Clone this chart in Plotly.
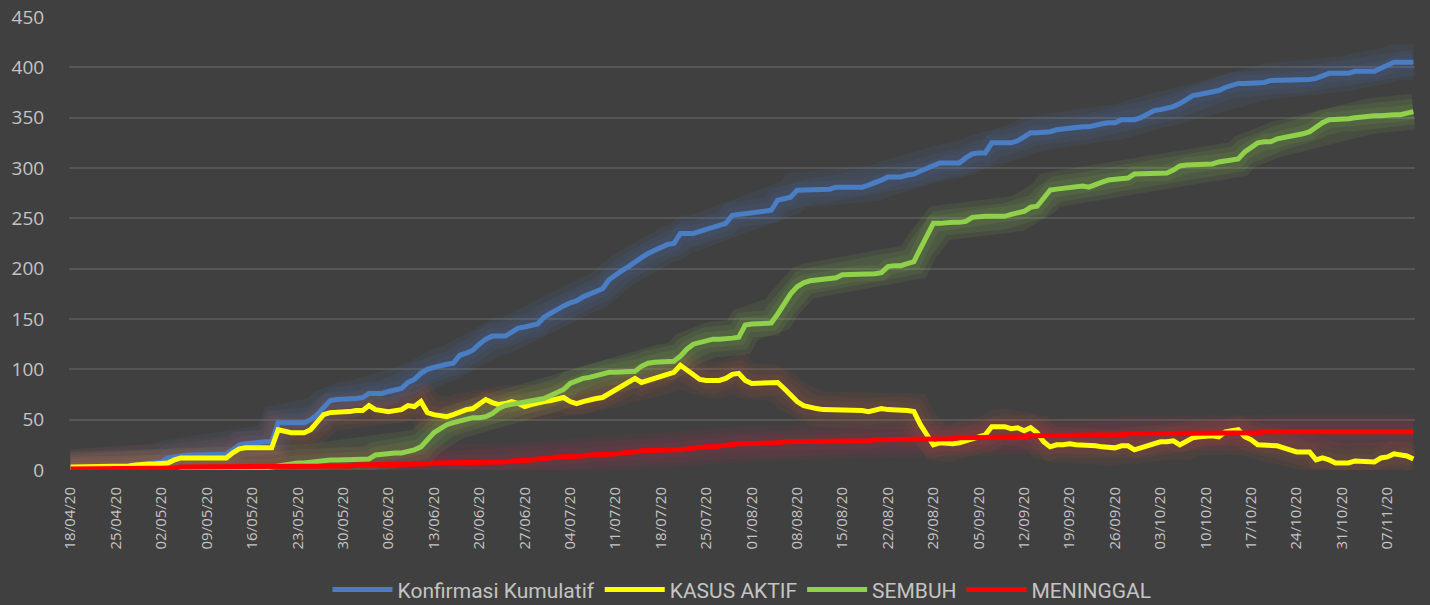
import pandas as pd
import plotly.graph_objects as go

start_date = "2020-04-18"
n_days = 208
dates = pd.date_range(start_date, periods=n_days, freq="D")
tick_dates = dates[::7]
tick_labels = [d.strftime("%d/%m/%y") for d in tick_dates]

konfirmasi = [
    2, 2, 2, 2, 2, 3, 3, 3, 3, 4,
    5, 6, 6, 7, 8, 12, 13, 15, 15, 15,
    15, 15, 16, 16, 16, 20, 25, 26, 27, 27,
    28, 28, 47, 47, 47, 47, 47, 50, 55, 62,
    69, 70, 70, 70, 71, 72, 76, 76, 76, 78,
    80, 81, 87, 90, 96, 100, 102, 104, 105, 106,
    114, 116, 119, 125, 130, 133, 133, 133, 137, 141,
    142, 144, 145, 152, 156, 160, 163, 166, 168, 172,
    175, 177, 180, 189, 194, 198, 202, 207, 211, 215,
    218, 222, 224, 225, 235, 235, 235, 237, 239, 240,
    242, 245, 253, 254, 255, 256, 257, 258, 258, 268,
    270, 271, 278, 278, 278, 278, 278, 279, 281, 281,
    281, 281, 281, 283, 285, 288, 291, 291, 291, 293,
    294, 297, 300, 303, 305, 305, 305, 305, 310, 314,
    315, 315, 325, 325, 325, 325, 327, 331, 335, 335,
    335, 336, 338, 339, 340, 341, 341, 341, 343, 344,
    345, 345, 348, 348, 348, 350, 353, 357, 358, 359,
    361, 364, 368, 372, 373, 374, 375, 377, 380, 382,
    384, 384, 384, 384, 385, 387, 387, 387, 387, 387,
    388, 388, 389, 392, 394, 394, 394, 394, 396, 396,
    396, 396, 399, 402, 405, 405, 405, 405,
]

kasus_aktif = [
    3, 3, 3, 3, 3, 3, 4, 4, 4, 4,
    5, 6, 6, 6, 7, 7, 10, 12, 12, 12,
    12, 12, 12, 12, 12, 17, 21, 22, 22, 22,
    22, 22, 40, 38, 37, 37, 37, 40, 48, 55,
    57, 57, 58, 58, 59, 59, 64, 60, 59, 58,
    59, 60, 64, 63, 68, 57, 55, 54, 53, 55,
    58, 60, 61, 65, 70, 67, 65, 66, 68, 66,
    63, 65, 67, 68, 69, 70, 72, 68, 66, 68,
    70, 71, 72, 76, 80, 84, 88, 91, 87, 89,
    92, 94, 95, 97, 104, 99, 94, 90, 89, 89,
    89, 91, 95, 96, 89, 86, 86, 87, 87, 87,
    81, 74, 68, 64, 62, 61, 60, 60, 60, 60,
    60, 60, 59, 58, 59, 61, 60, 60, 60, 59,
    58, 45, 35, 25, 27, 26, 26, 27, 29, 32,
    34, 35, 43, 43, 43, 41, 42, 39, 42, 37,
    28, 23, 25, 25, 26, 25, 25, 24, 24, 23,
    22, 22, 24, 24, 20, 22, 25, 27, 28, 28,
    29, 25, 28, 32, 33, 34, 34, 33, 38, 39,
    40, 33, 30, 25, 25, 25, 24, 22, 20, 18,
    18, 18, 10, 12, 10, 7, 7, 7, 9, 9,
    8, 8, 12, 13, 16, 15, 14, 11,
]

sembuh = [
    0, 0, 0, 0, 0, 0, 0, 0, 0, 0,
    0, 0, 0, 0, 0, 0, 0, 0, 0, 0,
    0, 0, 0, 0, 0, 0, 1, 1, 1, 1,
    2, 3, 4, 6, 7, 7, 7, 8, 9, 10,
    10, 10, 10, 10, 10, 10, 11, 15, 16, 17,
    17, 17, 18, 20, 23, 30, 37, 41, 45, 47,
    49, 51, 52, 52, 53, 56, 61, 64, 65, 67,
    68, 69, 69, 71, 74, 77, 80, 86, 89, 91,
    92, 94, 96, 97, 97, 97, 97, 98, 103, 106,
    107, 107, 107, 108, 113, 120, 125, 127, 129, 130,
    130, 130, 131, 132, 144, 145, 145, 145, 146, 155,
    165, 175, 182, 186, 188, 189, 189, 190, 191, 194,
    194, 195, 195, 195, 195, 196, 202, 203, 203, 205,
    207, 220, 233, 245, 245, 246, 246, 246, 247, 251,
    252, 252, 252, 252, 252, 254, 255, 257, 261, 262,
    270, 278, 279, 280, 280, 281, 282, 281, 284, 286,
    288, 289, 290, 290, 294, 294, 294, 295, 295, 295,
    298, 302, 303, 303, 304, 304, 304, 306, 307, 308,
    309, 316, 320, 325, 326, 326, 329, 330, 332, 333,
    334, 336, 341, 345, 348, 348, 349, 349, 350, 351,
    351, 352, 352, 353, 353, 353, 354, 356,
]

meninggal = [
    1, 1, 1, 1, 1, 1, 1, 1, 1, 1,
    1, 1, 1, 1, 1, 2, 2, 3, 3, 3,
    3, 3, 3, 3, 3, 3, 3, 3, 3, 3,
    3, 3, 4, 4, 4, 4, 4, 4, 4, 4,
    4, 4, 4, 4, 5, 5, 5, 5, 5, 5,
    5, 5, 6, 6, 6, 6, 7, 7, 7, 7,
    7, 7, 7, 8, 8, 8, 8, 8, 9, 9,
    9, 10, 11, 11, 12, 13, 13, 13, 14, 14,
    15, 15, 15, 16, 16, 17, 17, 18, 19, 19,
    19, 20, 20, 20, 20, 21, 22, 22, 23, 23,
    24, 24, 25, 26, 26, 26, 26, 27, 27, 27,
    28, 28, 28, 28, 28, 28, 28, 28, 28, 28,
    29, 29, 29, 29, 30, 30, 30, 30, 30, 30,
    30, 30, 30, 31, 31, 31, 31, 32, 32, 32,
    33, 33, 33, 33, 33, 33, 33, 33, 34, 34,
    34, 34, 34, 34, 34, 35, 35, 35, 35, 35,
    35, 35, 35, 36, 36, 36, 36, 36, 36, 36,
    36, 37, 37, 37, 37, 37, 37, 37, 37, 37,
    37, 37, 37, 37, 38, 38, 38, 38, 38, 38,
    38, 38, 38, 38, 38, 38, 38, 38, 38, 38,
    38, 38, 38, 38, 38, 38, 38, 38,
]

series_names = ["Konfirmasi Kumulatif", "KASUS AKTIF", "SEMBUH", "MENINGGAL"]
series_values = [konfirmasi, kasus_aktif, sembuh, meninggal]
series_colors = ["#4a7ec4", "#ffff00", "#8fd14a", "#ff0000"]
glow_colors = ["rgba(74,126,196,0.09)", "rgba(190,90,60,0.09)",
               "rgba(143,209,74,0.09)", "rgba(190,40,80,0.09)"]

BG = "#404040"
TXT = "#c4c4c4"

fig = go.Figure()

# soft glow underneath
for name, vals, gcol in zip(series_names, series_values, glow_colors):
    for w in (36, 26, 16):
        fig.add_trace(go.Scatter(
            x=dates, y=vals, mode="lines",
            line=dict(color=gcol, width=w, shape="linear"),
            showlegend=False, hoverinfo="skip",
        ))

for name, vals, col in zip(series_names, series_values, series_colors):
    fig.add_trace(go.Scatter(
        x=dates, y=vals, mode="lines", name=name,
        line=dict(color=col, width=5),
    ))

fig.update_layout(
    width=1430, height=605,
    paper_bgcolor=BG, plot_bgcolor=BG,
    margin=dict(l=69, r=15, t=17, b=135, autoexpand=False),
    font=dict(family="Open Sans, Lato, sans-serif", color=TXT),
    showlegend=True,
    legend=dict(
        orientation="h", x=0.5, xanchor="center", xref="paper",
        y=0.025, yanchor="middle", yref="container",
        font=dict(family="Roboto, sans-serif", size=21, color=TXT),
        bgcolor="rgba(0,0,0,0)", itemwidth=60, tracegroupgap=0,
    ),
    xaxis=dict(
        range=[dates[0] - pd.Timedelta(hours=6), dates[-1] + pd.Timedelta(hours=6)],
        tickvals=list(tick_dates), ticktext=tick_labels, tickangle=-90,
        tickfont=dict(size=15, color=TXT),
        showgrid=False, zeroline=False, showline=False, ticks="outside",
        ticklen=10, tickcolor=BG,
    ),
    yaxis=dict(
        range=[0, 450], dtick=50, tickfont=dict(size=19, color=TXT),
        gridcolor="#565656", gridwidth=2, zeroline=False, showline=False,
        ticks="outside", ticklen=20, tickcolor=BG,
    ),
)

fig.write_html(
    "out.html",
    config={"displayModeBar": False},
    post_script="document.body.style.margin='0';document.body.style.overflow='hidden';",
)
